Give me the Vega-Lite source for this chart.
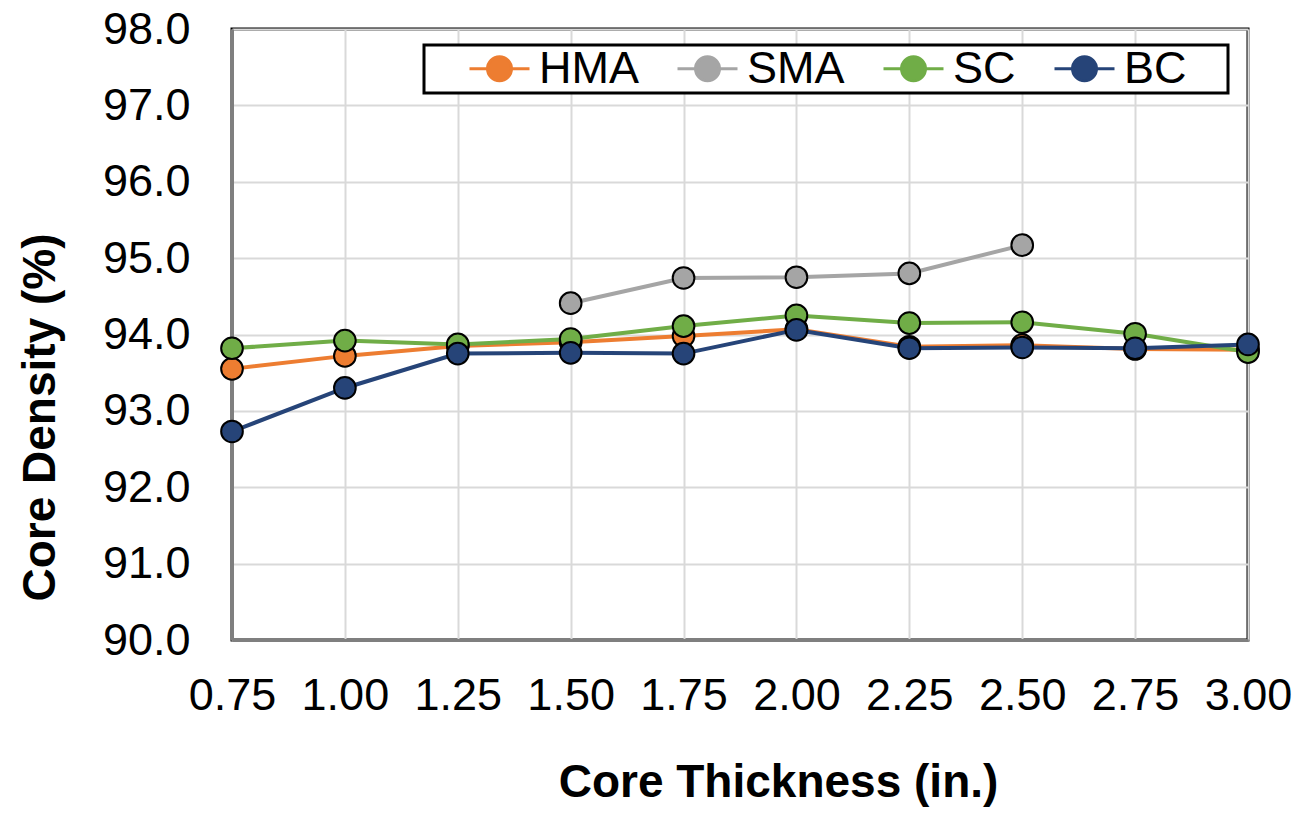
{
  "$schema": "https://vega.github.io/schema/vega-lite/v6.json",
  "width": 1016,
  "height": 611,
  "autosize": "none",
  "padding": {"left": 232, "top": 29, "right": 51, "bottom": 177},
  "background": "white",
  "config": {
    "font": "Liberation Sans",
    "view": {"stroke": "#000000", "strokeWidth": 3},
    "legend": {"strokeColor": "#000000", "strokeWidth": 3, "fillColor": "white"}
  },
  "data": {
    "values": [
      {"x": 0.75, "series": "HMA", "y": 93.55},
      {"x": 1.00, "series": "HMA", "y": 93.72},
      {"x": 1.25, "series": "HMA", "y": 93.85},
      {"x": 1.50, "series": "HMA", "y": 93.90},
      {"x": 1.75, "series": "HMA", "y": 93.98},
      {"x": 2.00, "series": "HMA", "y": 94.07},
      {"x": 2.25, "series": "HMA", "y": 93.84},
      {"x": 2.50, "series": "HMA", "y": 93.86},
      {"x": 2.75, "series": "HMA", "y": 93.81},
      {"x": 3.00, "series": "HMA", "y": 93.80},
      {"x": 1.50, "series": "SMA", "y": 94.41},
      {"x": 1.75, "series": "SMA", "y": 94.74},
      {"x": 2.00, "series": "SMA", "y": 94.75},
      {"x": 2.25, "series": "SMA", "y": 94.80},
      {"x": 2.50, "series": "SMA", "y": 95.17},
      {"x": 0.75, "series": "SC", "y": 93.82},
      {"x": 1.00, "series": "SC", "y": 93.92},
      {"x": 1.25, "series": "SC", "y": 93.87},
      {"x": 1.50, "series": "SC", "y": 93.94},
      {"x": 1.75, "series": "SC", "y": 94.11},
      {"x": 2.00, "series": "SC", "y": 94.25},
      {"x": 2.25, "series": "SC", "y": 94.15},
      {"x": 2.50, "series": "SC", "y": 94.16},
      {"x": 2.75, "series": "SC", "y": 94.01},
      {"x": 3.00, "series": "SC", "y": 93.77},
      {"x": 0.75, "series": "BC", "y": 92.73},
      {"x": 1.00, "series": "BC", "y": 93.30},
      {"x": 1.25, "series": "BC", "y": 93.75},
      {"x": 1.50, "series": "BC", "y": 93.76},
      {"x": 1.75, "series": "BC", "y": 93.75},
      {"x": 2.00, "series": "BC", "y": 94.06},
      {"x": 2.25, "series": "BC", "y": 93.82},
      {"x": 2.50, "series": "BC", "y": 93.83},
      {"x": 2.75, "series": "BC", "y": 93.82},
      {"x": 3.00, "series": "BC", "y": 93.87}
    ]
  },
  "encoding": {
    "x": {
      "field": "x",
      "type": "quantitative",
      "scale": {"domain": [0.75, 3.0], "nice": false, "zero": false},
      "axis": {
        "title": "Core Thickness (in.)",
        "values": [0.75, 1.0, 1.25, 1.5, 1.75, 2.0, 2.25, 2.5, 2.75, 3.0],
        "format": ".2f",
        "labelFontSize": 45,
        "labelColor": "#000000",
        "labelPadding": 33,
        "labelFlush": false,
        "labelOverlap": false,
        "ticks": false,
        "domainColor": "#7F7F7F",
        "domainWidth": 3,
        "gridColor": "#D9D9D9",
        "gridWidth": 2,
        "titleFontSize": 46,
        "titleFontWeight": "bold",
        "titleColor": "#000000",
        "titleAnchor": "middle",
        "titleAlign": "center",
        "titleBaseline": "alphabetic",
        "titleX": 546,
        "titleY": 156
      }
    },
    "y": {
      "field": "y",
      "type": "quantitative",
      "scale": {"domain": [90, 98], "nice": false, "zero": false},
      "axis": {
        "title": "Core Density (%)",
        "values": [90, 91, 92, 93, 94, 95, 96, 97, 98],
        "format": ".1f",
        "labelFontSize": 45,
        "labelColor": "#000000",
        "labelPadding": 42,
        "labelOverlap": false,
        "labelFlush": false,
        "ticks": false,
        "domainColor": "#7F7F7F",
        "domainWidth": 3,
        "gridColor": "#D9D9D9",
        "gridWidth": 2,
        "titleFontSize": 46,
        "titleFontWeight": "bold",
        "titleColor": "#000000",
        "titleAngle": 270,
        "titleAlign": "center",
        "titleBaseline": "alphabetic",
        "titleX": -178,
        "titleY": 388
      }
    }
  },
  "layer": [
    {
      "mark": {"type": "line", "strokeWidth": 4},
      "encoding": {
        "stroke": {
          "field": "series",
          "type": "nominal",
          "sort": ["HMA", "SMA", "SC", "BC"],
          "scale": {"domain": ["HMA", "SMA", "SC", "BC"], "range": ["#ED7D31", "#A5A5A5", "#70AD47", "#264478"]},
          "legend": {
            "title": "\u00a0",
            "titleOrient": "left",
            "titleFontSize": 45,
            "titlePadding": 52,
            "orient": "none",
            "legendX": 192,
            "legendY": 16,
            "direction": "horizontal",
            "symbolType": "M-2.5,0L-1,0M1,0L2.5,0M1,0A1,1 0 1,1 -1,0A1,1 0 1,1 1,0Z",
            "symbolSize": 576,
            "symbolStrokeWidth": 3,
            "labelFontSize": 45,
            "labelColor": "#000000",
            "labelOffset": 17,
            "columnPadding": 32,
            "padding": 1,
            "encode": {
              "symbols": {
                "update": {
                  "shape": {"signal": "datum.label === 'BC' ? 'M-2.5,0L-1,0M1,0L2.5,0M11.3,0L11.3,0M1,0A1,1 0 1,1 -1,0A1,1 0 1,1 1,0Z' : 'M-2.5,0L-1,0M1,0L2.5,0M1,0A1,1 0 1,1 -1,0A1,1 0 1,1 1,0Z'"}
                }
              }
            }
          }
        },
        "detail": {"field": "series"}
      }
    },
    {
      "mark": {"type": "point", "filled": true, "size": 470, "stroke": "#000000", "strokeWidth": 2, "opacity": 1},
      "encoding": {
        "fill": {
          "field": "series",
          "type": "nominal",
          "sort": ["HMA", "SMA", "SC", "BC"],
          "scale": {"domain": ["HMA", "SMA", "SC", "BC"], "range": ["#ED7D31", "#A5A5A5", "#70AD47", "#264478"]},
          "legend": {
            "title": "\u00a0",
            "titleOrient": "left",
            "titleFontSize": 45,
            "titlePadding": 52,
            "orient": "none",
            "legendX": 192,
            "legendY": 16,
            "direction": "horizontal",
            "symbolType": "M-2.5,0L-1,0M1,0L2.5,0M1,0A1,1 0 1,1 -1,0A1,1 0 1,1 1,0Z",
            "symbolSize": 576,
            "symbolStrokeWidth": 3,
            "labelFontSize": 45,
            "labelColor": "#000000",
            "labelOffset": 17,
            "columnPadding": 32,
            "padding": 1,
            "encode": {
              "symbols": {
                "update": {
                  "shape": {"signal": "datum.label === 'BC' ? 'M-2.5,0L-1,0M1,0L2.5,0M11.3,0L11.3,0M1,0A1,1 0 1,1 -1,0A1,1 0 1,1 1,0Z' : 'M-2.5,0L-1,0M1,0L2.5,0M1,0A1,1 0 1,1 -1,0A1,1 0 1,1 1,0Z'"}
                }
              }
            }
          }
        }
      }
    }
  ]
}
